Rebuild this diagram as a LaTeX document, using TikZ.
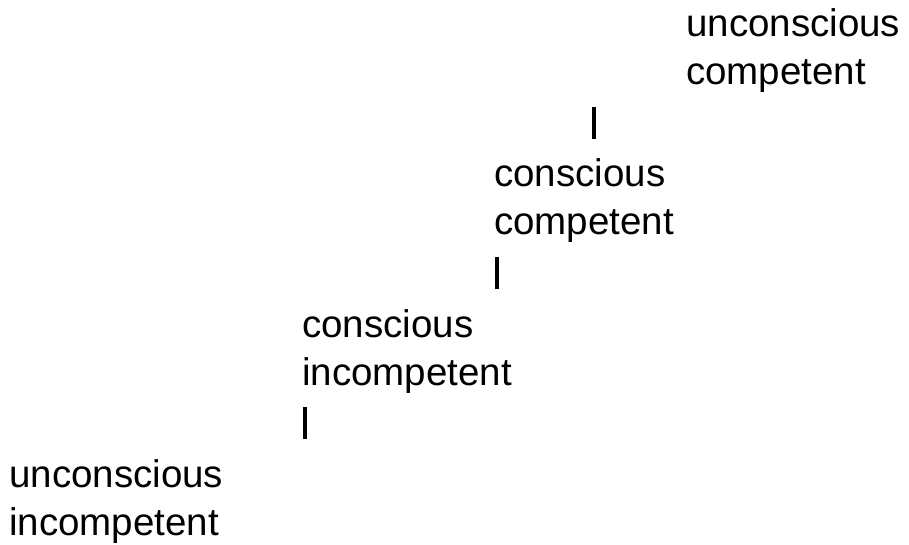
\documentclass[tikz,border=0pt]{standalone}
\usepackage{fontspec}
\setmainfont{Liberation Sans}
\begin{document}
\begin{tikzpicture}[x=1pt,y=-1pt,
  stage/.style={anchor=base west,inner sep=0pt,align=left,
    font=\fontsize{38.5}{48}\selectfont},
  bar/.style={line width=3.2pt,black}]
\useasboundingbox (0,0) rectangle (909,545);
\node[stage] (uc) at (686,85) {unconscious\\competent};
\node[stage] (cc) at (494,235) {conscious\\competent};
\node[stage] (ci) at (302,385) {conscious\\incompetent};
\node[stage] (ui) at (9,535) {unconscious\\incompetent};
\coordinate (b1a) at (594,107); \coordinate (b1b) at (594,139);
\coordinate (b2a) at (497,257); \coordinate (b2b) at (497,289);
\coordinate (b3a) at (305,407); \coordinate (b3b) at (305,439);
\draw[bar] (b1a) -- (b1b);
\draw[bar] (b2a) -- (b2b);
\draw[bar] (b3a) -- (b3b);
\end{tikzpicture}
\end{document}
